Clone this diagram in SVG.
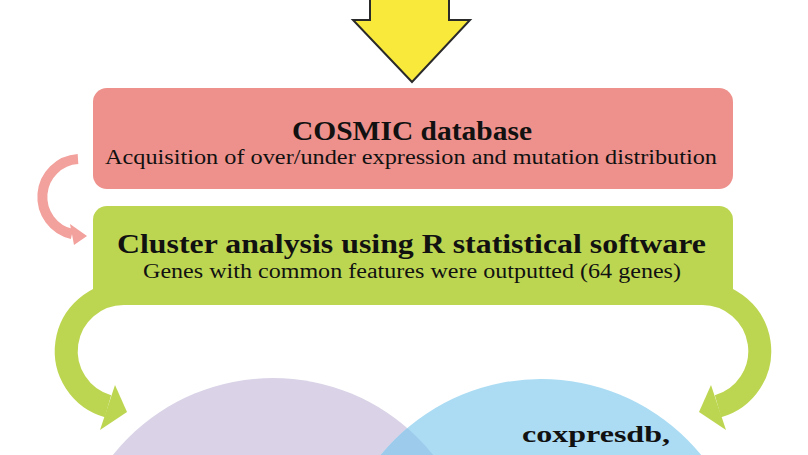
<svg xmlns="http://www.w3.org/2000/svg" width="808" height="455" viewBox="0 0 808 455">
  <style>
    .title { font-family: "Liberation Serif", "DejaVu Serif", serif; font-weight: bold; font-size: 28px; fill: #111; }
    .sub { font-family: "Liberation Serif", "DejaVu Serif", serif; font-size: 20px; fill: #111; }
    .lbl { font-family: "Liberation Serif", "DejaVu Serif", serif; font-weight: bold; font-size: 24px; fill: #111; }
    .green { fill: #bdd652; }
    .garc { fill: none; stroke: #bdd652; stroke-width: 23; }
  </style>
  <defs>
    <clipPath id="purpleClip">
      <circle cx="273" cy="583" r="205"/>
    </clipPath>
  </defs>
  <rect x="0" y="0" width="808" height="455" fill="#ffffff"/>

  <g id="venn">
    <circle cx="273" cy="583" r="205" fill="#dad3e7"/>
    <circle cx="541" cy="586" r="207" fill="#abdcf3"/>
    <circle cx="541" cy="586" r="207" fill="#9dcbec" clip-path="url(#purpleClip)"/>
    <text class="lbl" x="522" y="442" textLength="148" lengthAdjust="spacingAndGlyphs">coxpresdb,</text>
  </g>

  <g id="connectors">
    <polygon id="input-arrow" points="370,-5 449,-5 449,20 470,20 412,82 353,20 370,20" fill="#f9e93a" stroke="#2a2a2a" stroke-width="2" stroke-linejoin="miter"/>
    <g id="pink-arrow">
      <path d="M78,159 A38,38 0 0 0 72,234" fill="none" stroke="#f2a19c" stroke-width="10"/>
      <polygon points="70,224 87,236 74,245" fill="#f2a19c"/>
    </g>
    <g id="green-arrow-left">
      <path class="garc" d="M124,293.5 A57.5,57.5 0 0 0 108,406.3"/>
      <polygon class="green" points="115,385 127,412 100,430"/>
    </g>
    <g id="green-arrow-right" transform="translate(826,0) scale(-1,1)">
      <path class="garc" d="M124,293.5 A57.5,57.5 0 0 0 108,406.3"/>
      <polygon class="green" points="115,385 127,412 100,430"/>
    </g>
  </g>

  <g id="cosmic">
    <rect x="93" y="88" width="640" height="101" rx="14" fill="#ee918c"/>
    <text class="title" x="412" y="140" text-anchor="middle" textLength="240" lengthAdjust="spacingAndGlyphs">COSMIC database</text>
    <text class="sub" x="411" y="164" text-anchor="middle" textLength="612" lengthAdjust="spacingAndGlyphs">Acquisition of over/under expression and mutation distribution</text>
  </g>

  <g id="cluster">
    <path class="green" d="M107,206 H719 A14,14 0 0 1 733,220 V305 H93 V220 A14,14 0 0 1 107,206 Z"/>
    <text class="title" x="411.5" y="253" text-anchor="middle" textLength="589" lengthAdjust="spacingAndGlyphs">Cluster analysis using R statistical software</text>
    <text class="sub" x="412" y="278" text-anchor="middle" textLength="538" lengthAdjust="spacingAndGlyphs">Genes with common features were outputted (64 genes)</text>
  </g>
</svg>
